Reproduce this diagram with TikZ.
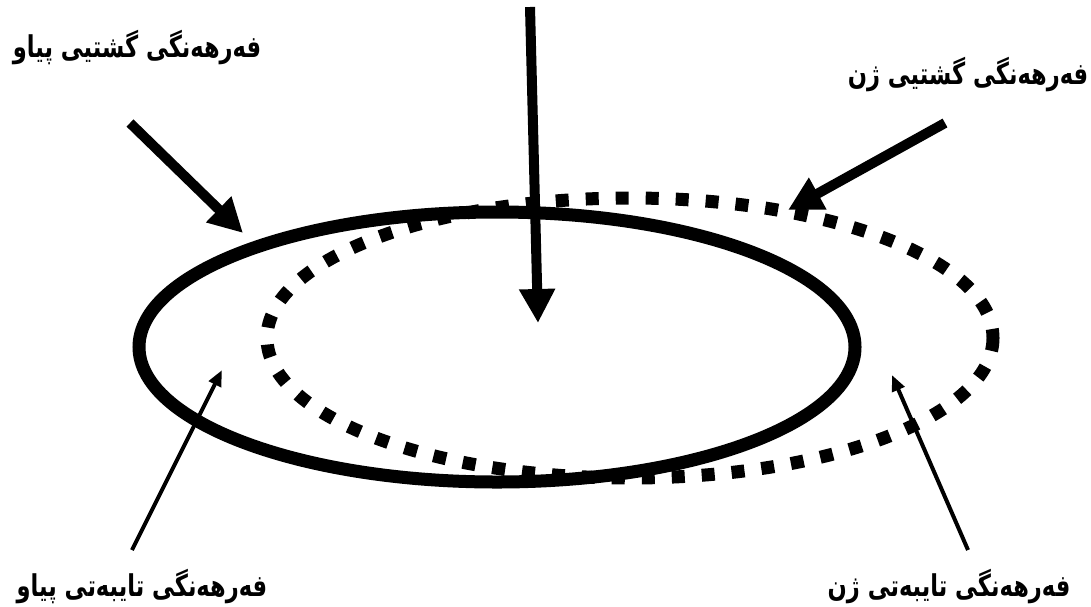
\documentclass[tikz,border=0pt]{standalone}
\usepackage{fontspec}
\usetikzlibrary{arrows.meta}
\newfontfamily\arabicfont[Script=Arabic]{DejaVu Sans}
\TeXXeTstate=1
\newcommand{\kurd}[1]{\scalebox{.94}[1.25]{\beginR #1\endR}}

\begin{document}
\begin{tikzpicture}[x=.5pt,y=-.5pt,font=\arabicfont\bfseries\fontsize{12}{14}\selectfont,
lbl/.style={inner sep=0pt},
ring/.style={line width=6.5pt},
dotring/.style={line width=6.5pt,dash pattern=on 6.5pt off 8.5pt},
big/.style={-{Triangle[width=17pt,length=17pt]},line width=5pt},
thin/.style={-{Triangle[width=6.5pt,length=8pt]},line width=2pt}]
\useasboundingbox (0,0) rectangle (1091,606);

\draw[ring](497,347) ellipse[x radius=358,y radius=135];
\draw[dotring](630,338) ellipse[x radius=363,y radius=140];

\node[lbl](gmale)at(137,48){\kurd{فەرهەنگی گشتیی پیاو}};
\node[lbl](gfemale)at(968,75){\kurd{فەرهەنگی گشتیی ژن}};
\node[lbl](smale)at(142,587){\kurd{فەرهەنگی تایبەتی پیاو}};
\node[lbl](sfemale)at(949,587){\kurd{فەرهەنگی تایبەتی ژن}};

\coordinate(top)at(530,7);
\coordinate(mid)at(538,323);
\coordinate(gm0)at(130,123);
\coordinate(gm1)at(243,233);
\coordinate(gf0)at(945,123);
\coordinate(gf1)at(788,210);
\coordinate(sm0)at(132,550);
\coordinate(sm1)at(222,370);
\coordinate(sf0)at(968,550);
\coordinate(sf1)at(892,375);

\draw[big](top)--(mid);
\draw[big](gm0)--(gm1);
\draw[big](gf0)--(gf1);
\draw[thin](sm0)--(sm1);
\draw[thin](sf0)--(sf1);
\end{tikzpicture}
\end{document}
